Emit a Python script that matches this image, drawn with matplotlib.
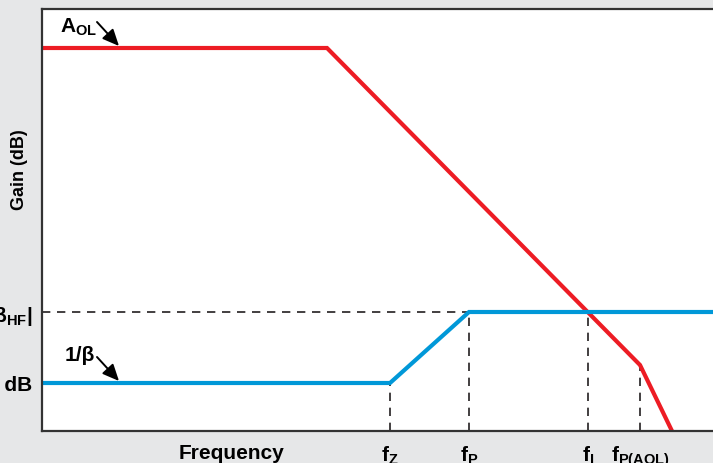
import matplotlib.pyplot as plt
import numpy as np

# values (x in plot units along frequency, y gain units)
aol_x = [42, 327, 640, 672]
aol_y = [383, 383, 66, 0]
beta_x = [42, 390, 469, 713]
beta_y = [48, 48, 119, 119]
f_z, f_p, f_i, f_paol = 390, 469, 588, 640
gain_hf = 119
gain_low = 48

xtick_pos = [231, f_z, f_p, f_i, f_paol]
xtick_labels = ['Frequency', 'f$_{Z}$', 'f$_{P}$', 'f$_{I}$', 'f$_{P(AOL)}$']
ytick_pos = [gain_low, gain_hf]
ytick_labels = ['0 dB', '|1/\u03b2$_{HF}$|']

plt.rcParams['font.family'] = 'Liberation Sans'
plt.rcParams['font.weight'] = 'bold'
plt.rcParams['mathtext.fontset'] = 'custom'
plt.rcParams['mathtext.rm'] = 'Liberation Sans:bold'
plt.rcParams['mathtext.it'] = 'Liberation Sans:bold'
plt.rcParams['mathtext.bf'] = 'Liberation Sans:bold'

bg = '#e6e7e8'
red = '#ed1c24'
blue = '#0098d8'
dark = '#231f20'

fig = plt.figure(figsize=(7.13, 4.64), dpi=100, facecolor=bg)
ax = fig.add_axes([42/713, 32/464, (713-42)/713, (432-10)/464])
ax.set_xlim(42, 713)
ax.set_ylim(0, 422)

# dashed guide lines
dash = dict(color=dark, lw=1.2, ls=(0, (5, 4)))
ax.plot([42, f_p], [gain_hf, gain_hf], **dash)
ax.plot([f_z, f_z], [0, gain_low], **dash)
ax.plot([f_p, f_p], [0, gain_hf], **dash)
ax.plot([f_i, f_i], [0, gain_hf], **dash)
ax.plot([f_paol, f_paol], [0, np.interp(f_paol, aol_x, aol_y)], **dash)

ax.plot(aol_x, aol_y, color=red, lw=3, solid_joinstyle='miter')
ax.plot(beta_x, beta_y, color=blue, lw=3, solid_joinstyle='miter')

# labels with arrows
arrow = dict(arrowstyle='-|>,head_length=1.0,head_width=0.45', color='black', lw=1.4,
             shrinkA=0, shrinkB=0)
ax.text(60, 432-33, 'A$_{OL}$', fontsize=15, va='baseline', ha='left')
ax.annotate('', xy=(119, aol_y[0]+2), xytext=(97, 432-23), arrowprops=arrow)
ax.text(65, 432-361, '1/\u03b2', fontsize=15, va='baseline', ha='left')
ax.annotate('', xy=(119, gain_low+2), xytext=(97, 432-358), arrowprops=arrow)

ax.set_xticks(xtick_pos)
ax.set_xticklabels(xtick_labels, fontsize=15)
ax.set_yticks(ytick_pos)
ax.set_yticklabels(ytick_labels, fontsize=15)
ax.tick_params(length=0, pad=7)
ax.tick_params(axis='x', pad=9)

for s in ['left', 'top', 'bottom']:
    ax.spines[s].set_color('#333333')
    ax.spines[s].set_linewidth(1.6)
ax.spines['right'].set_visible(False)

fig.text(20/713, 1 - 170/464, 'Gain (dB)', rotation=90, fontsize=13,
         ha='center', va='center')

fig.savefig('out.png', dpi=100, facecolor=bg)
